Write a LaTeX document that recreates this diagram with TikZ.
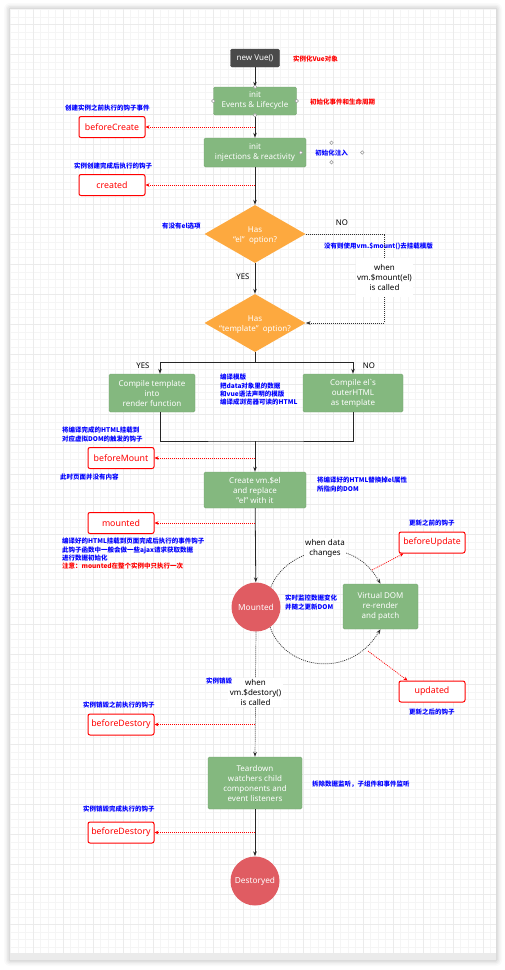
\documentclass[tikz,border=0pt]{standalone}
\usepackage{fontspec}
\setmainfont{Noto Sans}
\newfontfamily\cjk{Noto Sans CJK SC}
\usetikzlibrary{shapes.geometric,arrows.meta}

\definecolor{vuegreen}{HTML}{84B87F}
\definecolor{vueorange}{HTML}{FDA93F}
\definecolor{vuered}{HTML}{E05C62}
\definecolor{vuedark}{HTML}{4A4A4A}
\definecolor{noteblue}{HTML}{0000FF}
\definecolor{hookred}{HTML}{FF0000}

\tikzset{
  state/.style={draw=vuegreen!90!black, fill=vuegreen, rounded corners=1.5pt, text=white,
    align=center, font=\fontsize{8}{10}\selectfont, inner sep=0pt},
  hookbox/.style={draw=hookred, line width=1pt, fill=white, rounded corners=2pt, text=hookred,
    font=\fontsize{8.8}{10}\selectfont\bfseries, minimum width=66pt, minimum height=21pt, inner sep=0pt},
  decision/.style={diamond, fill=vueorange, minimum width=101pt, minimum height=58pt, inner sep=0pt},
  stage/.style={circle, fill=vuered, minimum size=49pt, inner sep=0pt, text=white,
    font=\fontsize{8.3}{10}\selectfont},
  notetext/.style={text=noteblue, font=\cjk\fontsize{6.5}{8.3}\selectfont\bfseries, align=left, inner sep=0pt},
  rednote/.style={notetext, text=hookred},
  plaintext/.style={font=\fontsize{8}{10}\selectfont, align=center, inner sep=0pt},
  answer/.style={plaintext, font=\fontsize{7.8}{9}\selectfont\bfseries},
  tag/.style={plaintext, fill=white, inner sep=1.5pt},
  link/.style={draw=black!85, line width=0.8pt},
  flow/.style={link, -{Stealth[length=5pt,width=3.6pt]}},
  dotline/.style={draw=black!80, line width=0.7pt, dash pattern=on 1pt off 1pt},
  dotarrow/.style={dotline, -{Stealth[length=5pt,width=3.6pt]}},
  hookline/.style={draw=hookred, line width=0.7pt, dash pattern=on 1pt off 1pt,
    -{Stealth[length=4pt,width=3.6pt]}},
  handle/.style={draw=black!40, fill=white, line width=0.5pt},
  gridminor/.style={draw=black!4, line width=0.7pt},
  gridmajor/.style={draw=black!8, line width=0.7pt},
}

\begin{document}
\begin{tikzpicture}[x=1pt,y=-1pt]
\useasboundingbox (0,0) rectangle (505,970);

% window with shadow and grid
\foreach \s/\o in {6/0.02,4.5/0.03,3/0.04,1.5/0.06}
  \fill[black, opacity=\o, rounded corners=\s pt] (10-\s,9-\s) rectangle (496+\s,960+\s);
\fill[white] (10,9) rectangle (496,953);
\fill[black!8] (10,953) rectangle (496,960);
\begin{scope}
\clip (10,9) rectangle (496,953);
\foreach \x in {10.8,18.3,...,496} \draw[gridminor] (\x,9) -- (\x,953);
\foreach \y in {9.5,17,...,953} \draw[gridminor] (10,\y) -- (496,\y);
\foreach \x in {33.3,63.3,...,496} \draw[gridmajor] (\x,9) -- (\x,953);
\foreach \y in {24.5,54.5,...,953} \draw[gridmajor] (10,\y) -- (496,\y);
\end{scope}

% creation
\node[state, fill=vuedark, draw=vuedark, minimum width=49pt, minimum height=18pt] (vue) at (255,58) {new Vue()};
\node[state, minimum width=83pt, minimum height=28pt] (events) at (255,101) {init\\Events \& Lifecycle};
\node[state, minimum width=102pt, minimum height=29pt] (inject) at (255,152.5) {init\\injections \& reactivity};
\node[hookbox] (bcreate) at (112,127) {beforeCreate};
\node[hookbox] (created) at (112,185) {created};
\node[rednote, anchor=west] (vuenote) at (293,59) {实例化Vue对象};
\node[rednote, anchor=west] (eventsnote) at (310,102) {初始化事件和生命周期};
\node[notetext, anchor=west] (bcnote) at (65,108) {创建实例之前执行的钩子事件};
\node[notetext, align=center, minimum width=61pt, minimum height=19pt] (injnote) at (331.5,152.5) {初始化注入};
\node[notetext, anchor=west] (crnote) at (74,166) {实例创建完成后执行的钩子};

% el / template options
\node[decision] (hasel) at (255,234) {};
\node[plaintext, text=white] (haseltext) at (255,236) {Has\\“el”\ \ option?};
\node[decision] (hastpl) at (255,323) {};
\node[plaintext, text=white] (hastpltext) at (255,325) {Has\\“template”\ \ option?};
\node[notetext, anchor=west] (elnote) at (162,226) {有没有el选项};
\node[answer] (no1) at (342,223) {NO};
\node[answer] (yes1) at (243,277) {YES};
\node[notetext, anchor=west] (mountnote) at (324,246) {没有则使用vm.\$mount()去挂载模版};
\node[tag, minimum width=57pt, minimum height=39pt] (mountlbl) at (384.5,277.5) {when\\vm.\$mount(el)\\is called};

% compile
\coordinate (split) at (255,362);
\coordinate (merge) at (255,441);
\node[state, minimum width=86pt, minimum height=38pt] (ctpl) at (152,393) {Compile template\\into\\render function};
\node[state, minimum width=100pt, minimum height=38pt] (cel) at (353,393) {Compile el\textasciigrave s\\outerHTML\\as template};
\node[answer] (yes2) at (143,366) {YES};
\node[answer] (no2) at (369,366) {NO};
\node[notetext, anchor=north west] (cplnote) at (220,374) {编译模版\\把data对象里的数据\\和vue语法声明的模版\\编译成浏览器可读的HTML};

% mounting
\node[state, minimum width=102pt, minimum height=36pt] (create) at (255,490) {Create vm.\$el\\and replace\\"el" with it};
\node[hookbox] (bmount) at (121,458) {beforeMount};
\node[hookbox] (mounted) at (121,523) {mounted};
\node[notetext, anchor=north west] (bmnote) at (62,427) {将编译完成的HTML挂载到\\对应虚拟DOM的触发的钩子};
\node[notetext, anchor=west] (emptynote) at (60,477) {此时页面并没有内容};
\node[notetext, anchor=north west] (crtnote) at (317,477) {将编译好的HTML替换掉el属性\\所指向的DOM};
\node[notetext, anchor=north west] (mdnote) at (62,538) {编译好的HTML挂载到页面完成后执行的事件钩子\\此钩子函数中一般会做一些ajax请求获取数据\\进行数据初始化\\\textcolor{hookred}{注意：mounted在整个实例中只执行一次}};

% update loop
\node[stage] (mountedc) at (256,607) {Mounted};
\node[state, minimum width=75pt, minimum height=45pt] (vdom) at (380.5,606.5) {Virtual DOM\\re-render\\and patch};
\node[hookbox] (bupdate) at (432,542.5) {beforeUpdate};
\node[hookbox] (updated) at (432,691.5) {updated};
\node[notetext, anchor=north west] (watchnote) at (285,595) {实时监控数据变化\\并随之更新DOM};
\node[notetext, anchor=west] (bunote) at (409,523) {更新之前的钩子};
\node[notetext, anchor=west] (upnote) at (409,712) {更新之后的钩子};
\coordinate (bufrom) at (372,570);
\coordinate (upfrom) at (368,651);

% teardown
\node[tag, minimum width=53pt, minimum height=29pt] (destroylbl) at (255.5,692.5) {when\\vm.\$destory()\\is called};
\node[notetext, anchor=west] (destroynote) at (206,681) {实例销毁};
\node[notetext, anchor=west] (bdnote) at (83,705) {实例销毁之前执行的钩子};
\node[hookbox] (bdestroyA) at (121,724.5) {beforeDestory};
\node[state, minimum width=94pt, minimum height=52pt] (teardown) at (255,783) {Teardown\\watchers child\\components and\\event listeners};
\node[notetext, anchor=west] (tdnote) at (312,784) {拆除数据监听，子组件和事件监听};
\node[notetext, anchor=west] (dnote) at (83,809) {实例销毁完成执行的钩子};
\node[hookbox] (bdestroyB) at (121,832.5) {beforeDestory};
\node[stage] (destroyc) at (255,881) {Destoryed};

% connectors
\draw[flow] (vue) -- (events);
\draw[flow] (events) -- (inject);
\draw[flow] (inject) -- (hasel.north);
\draw[flow] (hasel.south) -- (hastpl.north);
\draw[dotline] (hasel.east) -| (mountlbl.north);
\draw[dotarrow] (mountlbl.south) |- (hastpl.east);
\draw[link] (hastpl.south) -- (split);
\draw[flow] (split) -| ([xshift=8pt]ctpl.north);
\draw[flow] (split) -| (cel.north);
\draw[link] ([xshift=8pt]ctpl.south) |- (merge) -| (cel.south);
\draw[flow] (merge) -- (create.north);
\draw[flow] (create) -- (mountedc);
\draw[dotarrow] (mountedc.53) .. controls (285,550) and (350,530) .. (vdom.north);
\draw[dotarrow] (mountedc.-55) .. controls (285,670) and (350,680) .. (vdom.south);
\node[tag] (changelbl) at (325,548.5) {when data\\changes};
\draw[dotline] (mountedc.south) -- (destroylbl.north);
\draw[dotarrow] (destroylbl.south) -- (teardown.north);
\draw[flow] (teardown) -- (destroyc);

% hooks
\draw[hookline] (bcreate.east -| events.south) -- (bcreate.east);
\draw[hookline] (created.east -| inject.south) -- (created.east);
\draw[hookline] (bmount.east -| create.north) -- (bmount.east);
\draw[hookline] (mounted.east -| create.south) -- (mounted.east);
\draw[hookline] (bufrom) -- ([xshift=5pt]bupdate.south west);
\draw[hookline] (upfrom) -- ([xshift=9pt]updated.north west);
\draw[hookline] (bdestroyA.east -| teardown.north) -- (bdestroyA.east);
\draw[hookline] (bdestroyB.east -| teardown.south) -- (bdestroyB.east);

% handles
\foreach \a in {north,south,east,west} \draw[handle] (events.\a) circle[radius=1.8pt];
\foreach \a in {north,south,east,west} \draw[handle] (injnote.\a) circle[radius=1.8pt];
\end{tikzpicture}
\end{document}
